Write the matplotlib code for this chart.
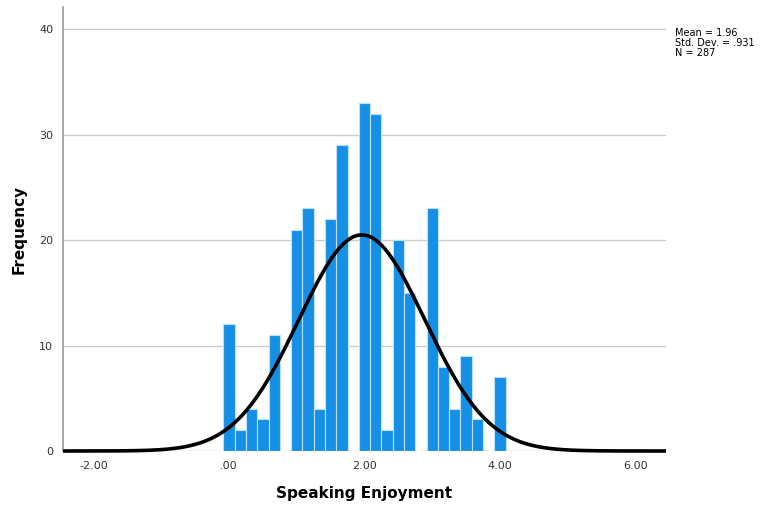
import numpy as np
import matplotlib
matplotlib.use("Agg")
import matplotlib.pyplot as plt

# histogram bins: centred on k/6, width 1/6
bin_width = 1 / 6
bin_centers = np.arange(25) * bin_width
counts = [12, 2, 4, 3, 11, 0, 21, 23, 4, 22, 29, 0,
          33, 32, 2, 20, 15, 0, 23, 8, 4, 9, 3, 0, 7]

mean = 1.96
std_dev = 0.931
n = 287

x_ticks = [-2, 0, 2, 4, 6]
x_tick_labels = ["-2.00", ".00", "2.00", "4.00", "6.00"]
y_ticks = [0, 10, 20, 30, 40]

fig = plt.figure(figsize=(7.66, 5.08), dpi=100)
ax = fig.add_axes([0.0822, 0.1122, 0.7873, 0.8738])

ax.bar(bin_centers, counts, width=bin_width, color="#1590e6",
       edgecolor="#bfe0fa", linewidth=0.8, zorder=3)

# fitted normal curve scaled to counts
xs = np.linspace(-2.45, 6.45, 600)
pdf = np.exp(-0.5 * ((xs - mean) / std_dev) ** 2) / (std_dev * np.sqrt(2 * np.pi))
ax.plot(xs, pdf * n * bin_width, color="black", linewidth=2.6, zorder=4,
        solid_capstyle="butt", clip_on=False)

ax.set_xlim(-2.45, 6.45)
ax.set_ylim(0, 42.1)
ax.set_xticks(x_ticks)
ax.set_xticklabels(x_tick_labels)
ax.set_yticks(y_ticks)
ax.tick_params(length=0, labelsize=8, colors="#333333", pad=7)

ax.yaxis.grid(True, color="#cccccc", linewidth=1)
ax.set_axisbelow(True)
for side in ["top", "right", "bottom"]:
    ax.spines[side].set_visible(False)
ax.spines["left"].set_color("#999999")
ax.spines["left"].set_linewidth(1.2)

ax.set_xlabel("Speaking Enjoyment", fontsize=11, fontweight="bold")
ax.set_ylabel("Frequency", fontsize=11, fontweight="bold")
ax.xaxis.set_label_coords(0.5, -0.078)
ax.yaxis.set_label_coords(-0.06, 0.5)

fig.text(0.881, 0.944, f"Mean = {mean}\nStd. Dev. = .931\nN = {n}",
         fontsize=7, va="top", ha="left", linespacing=0.95)

fig.savefig("out.png", dpi=100)
